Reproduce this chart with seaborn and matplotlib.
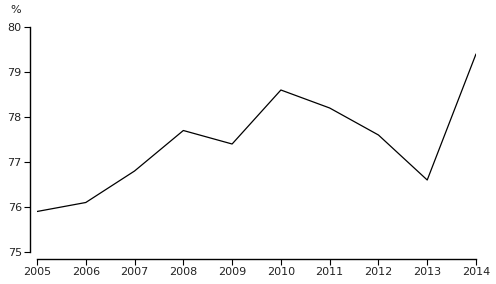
import matplotlib
matplotlib.use("Agg")
import matplotlib.pyplot as plt
import seaborn as sns
import pandas as pd

years = [2005, 2006, 2007, 2008, 2009, 2010, 2011, 2012, 2013, 2014]
values = [75.9, 76.1, 76.8, 77.7, 77.4, 78.6, 78.2, 77.6, 76.6, 79.4]
yticks = [75, 76, 77, 78, 79, 80]

sns.set_style("ticks")
plt.rcParams['font.family'] = ['DejaVu Sans']

df = pd.DataFrame({"year": years, "value": values})
fig = plt.figure(figsize=(4.96, 2.84), dpi=100)
ax = fig.add_axes([37/496, 32/284, 439/496, 225/284])
sns.lineplot(data=df, x="year", y="value", ax=ax, color="black", linewidth=0.9)
ax.set_xlim(2005, 2014)
ax.set_ylim(75, 80)
ax.set_xticks(years)
ax.set_xticklabels([str(y) for y in years])
ax.set_yticks(yticks)
ax.set_xlabel("")
ax.set_ylabel("")
for s in ["top", "right"]:
    ax.spines[s].set_visible(False)
ax.spines["left"].set_position(("outward", 5))
ax.spines["bottom"].set_position(("outward", 5))
for s in ["left", "bottom"]:
    ax.spines[s].set_linewidth(1.0)
    ax.spines[s].set_color("black")
ax.tick_params(axis="both", labelsize=8, length=4, width=0.8, color="black", labelcolor="#222222", pad=2)
fig.text(16/496, 1 - 10/284, "%", fontsize=8, color="#222222", ha="center", va="center")
fig.savefig("out.png", dpi=100)
